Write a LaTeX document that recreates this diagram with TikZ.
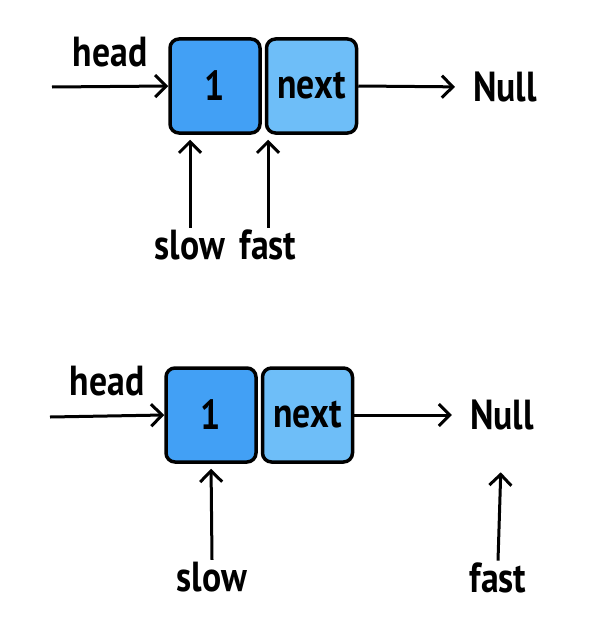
\documentclass[tikz,border=0pt]{standalone}
\usepackage{fontspec}
\setmainfont{PT Sans}[FakeStretch=0.85]
\usetikzlibrary{arrows.meta,positioning}
\definecolor{valblue}{RGB}{66,160,245}
\definecolor{nextblue}{RGB}{110,190,248}

\begin{document}
\begin{tikzpicture}[x=1pt, y=-1pt,
    every node/.style={font=\fontsize{42}{48}\selectfont\bfseries, inner sep=2pt},
    cell/.style={draw, line width=3.5pt, rounded corners=9pt, minimum width=90pt, minimum height=94pt},
    ptr/.style={line width=3pt, -{Straight Barb[length=11pt, width=22pt, line width=3pt]}}]
    \useasboundingbox (0,0) rectangle (614,626);

    % first step: fast sits on next
    \node[cell, fill=valblue] (val1) at (215,86) {1};
    \node[cell, fill=nextblue, right=3pt of val1] (next1) {next};
    \node (null1) at (505,87) {Null};
    \node (head1) at (110,52) {head};
    \node (slow1) at (190,245) {slow};
    \node (fast1) at (268,245) {fast};
    \coordinate (in1) at (52,87);

    \draw[ptr] (in1) -- (val1.west);
    \draw[ptr, shorten >=16pt] (next1.east) -- (null1.west);
    \draw[ptr, shorten >=5pt] (slow1.north) -- (slow1.north |- val1.south);
    \draw[ptr, shorten >=5pt] (fast1.north) -- (fast1.north |- val1.south);

    % second step: fast reaches Null
    \node[cell, fill=valblue] (val2) at (211,415) {1};
    \node[cell, fill=nextblue, right=3pt of val2] (next2) {next};
    \node (null2) at (502,415) {Null};
    \node (head2) at (107,381) {head};
    \node (slow2) at (212,577) {slow};
    \node (fast2) at (498,578) {fast};
    \coordinate (in2) at (50,417);

    \draw[ptr] (in2) -- (val2.west);
    \draw[ptr, shorten >=16pt] (next2.east) -- (null2.west);
    \draw[ptr, shorten >=5pt] (slow2.north) -- (val2.south);
    \draw[ptr, shorten >=40pt] (fast2.north) -- (null2.south);
\end{tikzpicture}
\end{document}
